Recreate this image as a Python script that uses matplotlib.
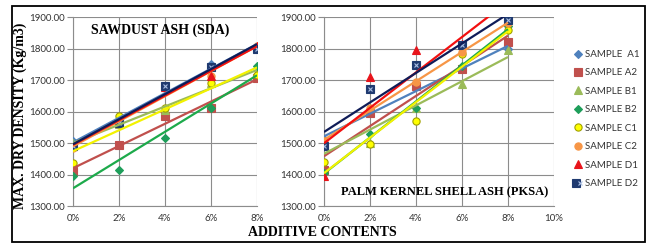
import numpy as np
import matplotlib
matplotlib.use('Agg')
import matplotlib.pyplot as plt
from matplotlib.patches import Rectangle
from matplotlib.legend_handler import HandlerTuple

# additive content, %
additive = [0, 2, 4, 6, 8]

# sawdust ash (SDA), max dry density kg/m3
sda_a1 = [1505, 1560, 1675, 1750, 1800]
sda_a2 = [1410, 1495, 1585, 1610, 1705]
sda_b1 = [1500, 1560, 1605, 1690, 1725]
sda_b2 = [1395, 1413, 1515, 1610, 1745]
sda_c1 = [1435, 1585, 1610, 1690, 1715]
sda_c2 = [1485, 1562, 1675, 1712, 1808]
sda_d1 = [1490, 1565, 1678, 1712, 1808]
sda_d2 = [1490, 1565, 1680, 1740, 1800]

# palm kernel shell ash (PKSA)
pksa_a1 = [1512, 1595, 1680, 1737, 1800]
pksa_a2 = [1413, 1596, 1681, 1735, 1822]
pksa_b1 = [1505, 1500, 1610, 1686, 1796]
pksa_b2 = [1405, 1530, 1610, 1745, 1870]
pksa_c1 = [1439, 1498, 1569, 1782, 1860]
pksa_c2 = [1505, 1610, 1695, 1790, 1880]
pksa_d1 = [1395, 1711, 1794, 1815, 1905]
pksa_d2 = [1490, 1673, 1748, 1812, 1889]

labels = ['SAMPLE  A1', 'SAMPLE A2', 'SAMPLE B1', 'SAMPLE B2',
          'SAMPLE C1', 'SAMPLE C2', 'SAMPLE D1', 'SAMPLE D2']

# marker, face, edge, trendline colour
styles = [
    ('D', '#4F81BD', '#4F81BD', '#4F81BD'),
    ('s', '#C0504D', '#C0504D', '#C0504D'),
    ('^', '#9BBB59', '#9BBB59', '#9BBB59'),
    ('D', '#1E9E5A', '#1E9E5A', '#1DAA4B'),
    ('o', '#FFFF00', '#A0A000', '#F2F200'),
    ('o', '#F79646', '#F79646', '#F79646'),
    ('^', '#E8141B', '#E8141B', '#F21010'),
    ('s', '#1F3A70', '#1F3A70', '#0F1C58'),
]

tick_font = 'Lato'
serif = 'Liberation Serif'

fig = plt.figure(figsize=(6.53, 2.44), dpi=100)
fig.patches.append(Rectangle((12 / 653, 2 / 244), 633 / 653, 236 / 244,
                             transform=fig.transFigure, fill=False,
                             edgecolor='black', linewidth=1.3))


def panel(rect, series, xmax):
    ax = fig.add_axes(rect)
    x = np.array(additive) / 100.0
    handles = []
    for ys, (m, fc, ec, lc) in zip(series, styles):
        ms = 4.4 if m == 'D' else 5.2
        h = ax.plot(x, ys, ls='none', marker=m, ms=ms, mfc=fc, mec=ec,
                    mew=0.8, zorder=3)[0]
        if m == 's' and fc == '#1F3A70':
            hx = ax.plot(x, ys, ls='none', marker='x', ms=3.3,
                         mec='#A9BEE3', mew=0.8, zorder=3)[0]
            h = (h, hx)
        handles.append(h)
        k, b = np.polyfit(x, ys, 1)
        ax.plot([x[0], x[-1]], [b + k * x[0], b + k * x[-1]], color=lc,
                lw=1.6, zorder=4, solid_capstyle='butt')
    ax.set_xlim(0, xmax)
    ax.set_ylim(1300, 1900)
    ax.set_xticks(np.arange(0, xmax + 0.001, 0.02))
    ax.set_xticklabels(['%d%%' % round(v * 100) for v in ax.get_xticks()])
    ax.set_yticks(np.arange(1300, 1901, 100))
    ax.set_yticklabels(['%.2f' % v for v in ax.get_yticks()])
    ax.grid(True, color='#8C8C8C', lw=0.8)
    ax.set_axisbelow(True)
    for s in ['top', 'right']:
        ax.spines[s].set_visible(False)
    for s in ['left', 'bottom']:
        ax.spines[s].set_color('#8C8C8C')
        ax.spines[s].set_linewidth(0.8)
    ax.tick_params(axis='y', length=4, color='#8C8C8C', width=0.8,
                   labelsize=7, labelcolor='#333333', pad=2)
    ax.tick_params(axis='x', length=0, labelsize=7, labelcolor='#333333',
                   pad=6)
    for t in ax.get_xticklabels() + ax.get_yticklabels():
        t.set_family(tick_font)
    return ax, handles


ax1, handles = panel([73 / 653, 38 / 244, 184 / 653, 189 / 244],
                     [sda_a1, sda_a2, sda_b1, sda_b2,
                      sda_c1, sda_c2, sda_d1, sda_d2], 0.08)
ax2, _ = panel([324 / 653, 38 / 244, 230 / 653, 189 / 244],
               [pksa_a1, pksa_a2, pksa_b1, pksa_b2,
                pksa_c1, pksa_c2, pksa_d1, pksa_d2], 0.10)

ax1.text(0.475, 0.93, 'SAWDUST ASH (SDA)', transform=ax1.transAxes,
         ha='center', va='center', family=serif, weight='bold',
         fontsize=10, zorder=5)
ax2.text(0.975, 0.07, 'PALM KERNEL SHELL ASH (PKSA)', transform=ax2.transAxes,
         ha='right', va='center', family=serif, weight='bold',
         fontsize=9, zorder=5)

fig.text(20 / 653, 0.5 + 6 / 244, 'MAX. DRY DENSITY (Kg/m3)', rotation=90,
         ha='center', va='center', family=serif, weight='bold', fontsize=10)
fig.text(322 / 653, 1 - 232 / 244, 'ADDITIVE CONTENTS', ha='center',
         va='center', family=serif, weight='bold', fontsize=10)

leg = fig.legend(handles, labels, loc='upper left',
                 bbox_to_anchor=(574 / 653, 1 - 50 / 244),
                 handler_map={tuple: HandlerTuple(ndivide=None, pad=0)},
                 frameon=False, prop={'family': tick_font, 'size': 7},
                 handlelength=0.8, handletextpad=0.3, labelspacing=0.97,
                 borderaxespad=0, borderpad=0)
for t in leg.get_texts():
    t.set_color('#333333')

fig.savefig('out.png', dpi=100)
